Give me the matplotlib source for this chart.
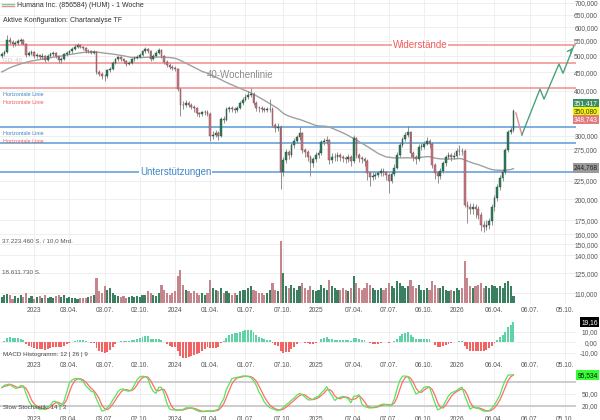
import numpy as np
import pandas as pd
import matplotlib
matplotlib.use("Agg")
import matplotlib.pyplot as plt
from matplotlib.ticker import NullLocator

plt.rcParams['font.family'] = ['Liberation Sans', 'DejaVu Sans']

# weekly candles, first week 2022-10-10 (USD)
start = "2022-10-10"
first_open = 498
closes = [505, 512, 552, 546, 538, 542, 548, 552, 540, 502,
          510, 512, 500, 502, 497, 500, 486, 500, 505, 508,
          500, 486, 490, 505, 510, 515, 522, 530, 535, 530,
          524, 515, 516, 510, 512, 450, 445, 440, 438, 455,
          460, 478, 490, 495, 488, 482, 474, 478, 488, 492,
          497, 502, 515, 522, 514, 490, 500, 508, 518, 500,
          480, 472, 466, 463, 460, 405, 366, 365, 370, 366,
          361, 357, 346, 344, 348, 349, 345, 300, 302, 306,
          300, 334, 332, 355, 357, 356, 353, 358, 370, 378,
          385, 390, 392, 370, 358, 357, 356, 354, 355, 356,
          322, 315, 318, 238, 257, 270, 265, 283, 290, 297,
          305, 274, 270, 262, 252, 258, 265, 268, 288, 290,
          292, 257, 262, 262, 265, 262, 260, 258, 262, 255,
          295, 265, 260, 258, 255, 237, 230, 232, 234, 236,
          240, 238, 233, 225, 235, 245, 265, 283, 293, 302,
          307, 268, 262, 258, 280, 280, 285, 290, 285, 249,
          236, 232, 240, 252, 262, 265, 262, 264, 272, 273,
          272, 193, 190, 188, 190, 188, 181, 170, 168, 170,
          174, 190, 202, 216, 229, 238, 274, 308, 311, 351.417]
highs = [512, 518, 571, 562, 552, 550, 555, 560, 556, 542,
         516, 520, 515, 508, 506, 507, 503, 504, 512, 514,
         512, 503, 496, 510, 516, 520, 528, 538, 542, 540,
         533, 528, 522, 520, 518, 515, 455, 450, 446, 460,
         466, 482, 494, 500, 498, 492, 486, 484, 492, 498,
         502, 508, 520, 530, 526, 518, 504, 514, 526, 522,
         503, 485, 476, 470, 468, 462, 408, 374, 376, 374,
         370, 365, 360, 350, 352, 354, 353, 348, 310, 312,
         310, 338, 340, 360, 362, 362, 360, 363, 374, 384,
         392, 400, 406, 396, 374, 363, 362, 360, 360, 380,
         360, 326, 326, 322, 262, 276, 274, 287, 296, 302,
         318, 308, 278, 274, 266, 262, 270, 274, 292, 296,
         300, 294, 268, 268, 270, 268, 266, 264, 267, 265,
         302, 298, 268, 264, 262, 258, 240, 238, 238, 240,
         244, 244, 240, 236, 240, 250, 270, 288, 298, 308,
         320, 310, 272, 265, 284, 286, 290, 298, 294, 288,
         252, 240, 244, 256, 266, 270, 268, 270, 278, 282,
         278, 275, 198, 196, 195, 194, 192, 184, 174, 175,
         178, 194, 206, 220, 233, 242, 278, 312, 318, 356]
lows = [492, 500, 510, 538, 530, 532, 536, 540, 535, 495,
        498, 503, 494, 494, 490, 488, 480, 483, 496, 498,
        494, 478, 478, 486, 500, 505, 510, 518, 526, 524,
        518, 508, 508, 504, 505, 445, 438, 432, 425, 434,
        450, 456, 474, 484, 482, 476, 468, 470, 474, 484,
        488, 492, 498, 510, 508, 484, 486, 496, 504, 494,
        474, 466, 460, 456, 452, 400, 340, 355, 360, 360,
        355, 350, 340, 338, 340, 342, 340, 290, 294, 298,
        292, 298, 326, 330, 350, 350, 346, 348, 355, 366,
        374, 380, 384, 364, 352, 350, 350, 348, 350, 350,
        318, 308, 310, 213, 232, 252, 258, 262, 278, 286,
        292, 268, 262, 255, 232, 246, 254, 260, 265, 282,
        284, 250, 252, 255, 256, 256, 253, 252, 253, 248,
        252, 260, 254, 252, 248, 226, 218, 226, 228, 230,
        232, 232, 226, 208, 222, 232, 242, 262, 280, 290,
        298, 262, 255, 250, 256, 274, 276, 282, 278, 244,
        228, 222, 228, 236, 248, 258, 256, 258, 260, 266,
        266, 190, 172, 182, 182, 178, 176, 163, 162, 164,
        166, 170, 186, 198, 212, 225, 235, 270, 304, 308]
# weekly volume, million shares
volumes = [3.5, 4.5, 5.5, 4.5, 2.5, 4, 3, 4.5, 3.5, 6,
           3, 4, 2.5, 3.5, 4, 3, 4.5, 3, 3.5, 3,
           4, 5, 3.5, 4.5, 3, 3.5, 3, 3, 2.5, 3,
           3, 3, 3.5, 4, 5, 15, 7, 6, 10, 8,
           9, 6, 5, 4, 3.5, 4, 3, 3.5, 4, 3.5,
           4, 3.5, 4.5, 5, 7, 6, 4.5, 4, 6, 11,
           8, 6, 5, 6, 7, 16, 20, 11, 8, 7,
           6, 7, 6, 5, 6, 5, 6, 14, 9, 8,
           7, 9, 6, 7, 6, 5, 6, 5, 7, 8,
           8, 9, 10, 8, 7, 6, 6, 5, 6, 8,
           12, 8, 7, 37.22346, 18, 10, 9, 11, 9, 8,
           10, 12, 9, 8, 10, 8, 7, 8, 11, 9,
           8, 14, 10, 9, 8, 8, 9, 8, 7, 9,
           16, 12, 9, 8, 9, 12, 11, 9, 8, 8,
           9, 8, 9, 12, 10, 9, 13, 12, 10, 9,
           10, 14, 10, 9, 11, 8, 8, 9, 8, 13,
           11, 9, 9, 10, 8, 7, 8, 7, 9, 8,
           9, 25, 15, 10, 9, 10, 11, 12, 9, 10,
           9, 11, 10, 9, 10, 9, 12, 13, 10, 4]
# closes of the 40 weeks before the window, only used to warm up the 40-week line and MACD
warmup_closes = [395, 380, 365, 385, 410, 425, 440, 445, 430, 420,
                 430, 430, 435, 445, 450, 450, 445, 440, 430, 420,
                 455, 450, 440, 430, 440, 465, 470, 475, 470, 480,
                 480, 490, 495, 480, 480, 490, 490, 495, 485, 495]

resistances = [535, 478, 408]
supports = [316.5, 287, 237.6]
quote_labels = ["351,417", "350,080", "348,743"]
sma_label = 244.768
stoch_label = 95.534

# drawn forecast path (weeks from first candle, price)
forecast_weeks = [189.9, 192.1, 198.8, 200.3, 205.8, 207.3, 211.3]
forecast_prices = [347, 301.5, 404, 379, 474, 447, 532]

price_ticks = [700, 650, 600, 550, 500, 450, 400, 300, 275, 225, 200,
               175, 160, 150, 140, 125, 110]
tick_dates = ["2023-01-02", "2023-04-03", "2023-07-03", "2023-10-02",
              "2024-01-01", "2024-04-01", "2024-07-01", "2024-10-07",
              "2024-12-30", "2025-04-07", "2025-07-07", "2025-10-06",
              "2025-12-29", "2026-04-06", "2026-07-06", "2026-10-05"]
tick_labels = ["2023", "03.04.", "03.07.", "02.10.", "2024", "01.04.",
               "01.07.", "07.10.", "2025", "07.04.", "07.07.", "06.10.",
               "2026", "06.04.", "06.07.", "05.10."]

GREEN, RED = "#2e7d5a", "#cc7a82"
GRID = "#ececec"

dates = pd.date_range(start, periods=len(closes), freq="W-MON")
c = np.array(closes, float)
o = np.r_[first_open, c[:-1]]
h = np.maximum(np.array(highs, float), np.maximum(o, c))
l = np.minimum(np.array(lows, float), np.minimum(o, c))
up = c >= o

full = pd.Series(warmup_closes + closes, dtype=float)
sma40 = full.rolling(40).mean().iloc[len(warmup_closes):].values
macd = full.ewm(span=12, adjust=False).mean() - full.ewm(span=26, adjust=False).mean()
hist = (macd - macd.ewm(span=9, adjust=False).mean()).iloc[len(warmup_closes):].values

cs, hs, ls = pd.Series(c), pd.Series(h), pd.Series(l)
hh = hs.rolling(14, min_periods=1).max()
ll = ls.rolling(14, min_periods=1).min()
fast_k = 100 * (cs - ll) / (hh - ll)
slow_k = fast_k.rolling(3, min_periods=1).mean()
slow_d = slow_k.rolling(3, min_periods=1).mean()

week = pd.Timedelta(weeks=1)
xlim = (dates[0] - 0.63 * week, dates[0] + 212.1 * week)
tdates = pd.to_datetime(tick_dates)


def de(v, n):
    return f"{v:.{n}f}".replace(".", ",")


fig = plt.figure(figsize=(6, 4.2), dpi=100)
ax = fig.add_axes([0, 0.2786, 0.96, 0.7214])
axm = fig.add_axes([0, 0.1429, 0.96, 0.1095])
axs = fig.add_axes([0, 0.0143, 0.96, 0.1095])

for a, pad in [(ax, 3.2), (axm, 1.8), (axs, 1.8)]:
    a.set_xlim(*xlim)
    a.set_xticks(tdates)
    a.set_xticklabels(tick_labels)
    a.tick_params(axis="x", length=0, pad=pad, labelsize=4.8, colors="#555")
    a.tick_params(axis="y", which="both", left=False, labelleft=False, right=False,
                  labelright=True, length=0, pad=15.8, labelsize=4.8, colors="#555")
    for s in a.spines.values():
        s.set_visible(False)
    a.grid(True, color=GRID, lw=0.6, zorder=0)
    a.set_axisbelow(True)

# volume on a twin axis behind the price panel
axv = ax.twinx()
axv.set_ylim(0, 182)
axv.set_yticks([])
for s in axv.spines.values():
    s.set_visible(False)
axv.bar(dates, volumes, width=5.5, color=np.where(up, "#3a7f5f", "#c4858d"), zorder=1)
axv.text(0.004, 37.22346, "37.223.460 S. / 10,0 Mrd.", transform=axv.get_yaxis_transform(),
         fontsize=4.5, color="#555", va="center")
axv.text(0.004, 18.61173, "18.611.730 S.", transform=axv.get_yaxis_transform(),
         fontsize=4.5, color="#555", va="center")

ax.set_yscale("log")
ax.set_ylim(103.3, 713)
ax.set_yticks(price_ticks)
ax.set_yticklabels([de(v, 3) for v in price_ticks])
ax.yaxis.set_minor_locator(NullLocator())
ax.tick_params(axis="y", which="both", left=False, labelleft=False, right=False,
               labelright=True, length=0, pad=15.8, labelsize=4.8, colors="#555")
for t in ax.get_yticklabels():
    t.set_ha("right")

for lv in resistances:
    ax.axhline(lv, color="#f28b8b", lw=1.1, zorder=2)
for lv in supports:
    ax.axhline(lv, color="#5b9bd5", lw=1.1, zorder=2)

ax.plot(dates, sma40, color="#a0a0a0", lw=1.0, zorder=3)

ax.vlines(dates, l, h, color="#808080", lw=0.6, zorder=4)
ax.bar(dates, np.maximum(np.abs(c - o), 0.6), bottom=np.minimum(o, c), width=4.5,
       color=np.where(up, GREEN, RED), edgecolor=np.where(up, "#1e4d39", "#7d3d44"),
       linewidth=0.3, zorder=5)

fx = [dates[0] + w * week for w in forecast_weeks]
ax.plot(fx[:2], forecast_prices[:2], color="#f08a8a", lw=1.0, zorder=6)
ax.plot(fx[1:], forecast_prices[1:], color="#4aa37a", lw=1.0, zorder=6)
ax.annotate("", xy=(fx[-1], forecast_prices[-1]),
            xytext=(fx[-1] - 1.5 * week, forecast_prices[-1] * 0.965),
            arrowprops=dict(arrowstyle="->", color="#4aa37a", lw=1.0, mutation_scale=7), zorder=6)

bb = dict(facecolor="white", edgecolor="none", pad=0.6)
ax.text(0.682, resistances[0], "Widerstände", transform=ax.get_yaxis_transform(),
        fontsize=7, color="#f05a5a", va="center", bbox=bb, zorder=7)
ax.text(0.243, supports[2], "Unterstützungen", transform=ax.get_yaxis_transform(),
        fontsize=7, color="#3d85c6", va="center", bbox=bb, zorder=7)
ax.text(0.359, 442, "40-Wochenlinie", transform=ax.get_yaxis_transform(),
        fontsize=7, color="#8c8c8c", va="center", zorder=7)
ax.text(0.005, 486, "GD: 40", transform=ax.get_yaxis_transform(),
        fontsize=4.3, color="#c8c8c8", va="center", zorder=7)
for yv, txt, col in [(391, "Horizontale Linie", "#3d85c6"), (372, "Horizontale Linie", "#f05a5a"),
                     (305, "Horizontale Linie", "#3d85c6"), (290, "Horizontale Linie", "#f05a5a")]:
    ax.text(0.005, yv, txt, transform=ax.get_yaxis_transform(), fontsize=3.9,
            color=col, va="center", zorder=7)

fig.text(0.028, 0.988, "Humana Inc. (856584) (HUM) - 1 Woche", fontsize=5, color="#333", va="center")
fig.text(0.005, 0.952, "Aktive Konfiguration: Chartanalyse TF", fontsize=5, color="#333", va="center")
fig.add_artist(plt.Line2D([0.004, 0.024], [0.991, 0.991], color="#7ccf9a", lw=1.0))
fig.add_artist(plt.Line2D([0.004, 0.024], [0.985, 0.985], color="#f08a8a", lw=1.0))

xr = 1 + 22 / 576
for off, txt, fc, tc in [(8, quote_labels[0], "#3c8c64", "white"),
                         (0, quote_labels[1], "#f5f500", "#333"),
                         (-8, quote_labels[2], "#e07a82", "white")]:
    ax.annotate(txt, xy=(xr, 350), xycoords=ax.get_yaxis_transform(),
                xytext=(0, off * 0.72), textcoords="offset points", ha="right", va="center",
                fontsize=4.8, color=tc, annotation_clip=False,
                bbox=dict(facecolor=fc, edgecolor="none", pad=1.0), zorder=8)
ax.annotate(de(sma_label, 3), xy=(xr, sma_label), xycoords=ax.get_yaxis_transform(),
            ha="right", va="center", fontsize=4.8, color="#222", annotation_clip=False,
            bbox=dict(facecolor="#9a9a9a", edgecolor="none", pad=1.0), zorder=8)

# MACD histogram
axm.set_ylim(-17, 27)
axm.bar(dates, hist, width=5.0, color=np.where(hist >= 0, "#5fd3a5", "#f26464"), zorder=2)
axm.set_yticks([10, 0, -10])
axm.set_yticklabels(["10,00", "0,00", "-10,00"])
for t in axm.get_yticklabels():
    t.set_ha("right")
axm.text(0.005, -12, "MACD Histogramm: 12 | 26 | 9", fontsize=4.5, color="#444",
         transform=axm.get_yaxis_transform(), va="center")
axm.annotate(de(hist[-1], 2), xy=(xr, min(hist[-1], 24)), xycoords=axm.get_yaxis_transform(),
             ha="right", va="center", fontsize=4.8, color="white", annotation_clip=False,
             bbox=dict(facecolor="black", edgecolor="none", pad=1.0), zorder=8)

# slow stochastic
axs.set_ylim(-1, 114)
axs.axhline(80, color="#cdcdcd", lw=1.4, zorder=1)
axs.axhline(20, color="#cdcdcd", lw=1.4, zorder=1)
axs.plot(dates, slow_d, color="#ff6b6b", lw=0.9, zorder=3)
axs.plot(dates, slow_k, color="#5be35b", lw=0.9, zorder=3)
axs.set_yticks([50, 20])
axs.set_yticklabels(["50,00", "20,00"])
for t in axs.get_yticklabels():
    t.set_ha("right")
axs.text(0.005, 15, "Slow Stochastik: 14 | 3", fontsize=4.5, color="#444",
         transform=axs.get_yaxis_transform(), va="center")
axs.annotate(de(stoch_label, 3), xy=(xr, stoch_label), xycoords=axs.get_yaxis_transform(),
             ha="right", va="center", fontsize=4.8, color="#111", annotation_clip=False,
             bbox=dict(facecolor="#33ff33", edgecolor="none", pad=1.0), zorder=8)

fig.savefig("out.png", dpi=100)
